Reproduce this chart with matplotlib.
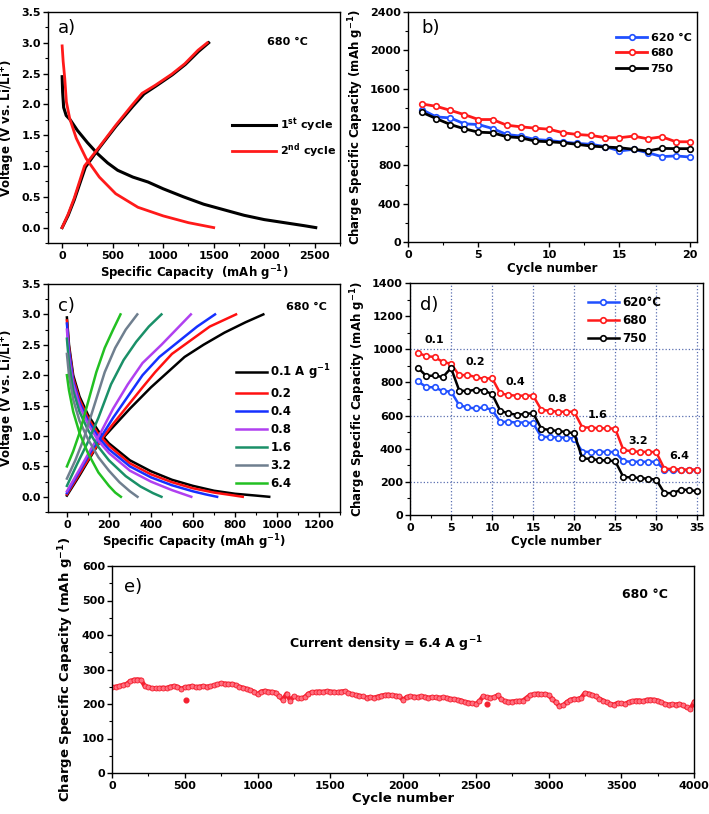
import numpy as np
import matplotlib
matplotlib.use("Agg")
import matplotlib.pyplot as plt
from matplotlib.ticker import MultipleLocator, FormatStrFormatter

plt.rcParams.update({
    "font.family": ["DejaVu Sans"],
    "font.weight": "bold",
    "font.size": 8,
    "axes.labelweight": "bold",
    "axes.labelsize": 8.5,
    "axes.linewidth": 1.0,
    "mathtext.fontset": "custom",
    "mathtext.rm": "DejaVu Sans:bold",
    "mathtext.bf": "DejaVu Sans:bold",
    "mathtext.it": "DejaVu Sans:bold:italic",
    "mathtext.default": "rm",
    "xtick.direction": "out",
    "ytick.direction": "out",
    "xtick.major.size": 3.5,
    "ytick.major.size": 3.5,
    "xtick.minor.size": 2.0,
    "ytick.minor.size": 2.0,
    "xtick.major.width": 1.0,
    "ytick.major.width": 1.0,
    "xtick.minor.width": 0.8,
    "ytick.minor.width": 0.8,
    "xtick.major.pad": 2,
    "ytick.major.pad": 1.5,
})

# ---------------- panel a: 1st / 2nd cycle (680 C) ----------------
a1_dis_cap = [0, 5, 15, 40, 80, 150, 250, 350, 450, 550, 700, 850, 1000,
              1200, 1400, 1600, 1800, 2000, 2200, 2400, 2510]
a1_dis_v = [2.45, 2.2, 1.95, 1.82, 1.75, 1.58, 1.38, 1.2, 1.05, 0.93, 0.82,
            0.74, 0.63, 0.5, 0.38, 0.29, 0.2, 0.13, 0.08, 0.03, 0.0]
a1_chg_cap = [0, 60, 120, 230, 370, 530, 700, 810, 930, 1090, 1220, 1350, 1450]
a1_chg_v = [0.0, 0.2, 0.45, 0.98, 1.3, 1.64, 1.97, 2.17, 2.3, 2.48, 2.65, 2.86, 3.0]
a2_dis_cap = [0, 10, 26, 42, 75, 140, 238, 368, 530, 750, 1000, 1250, 1500]
a2_dis_v = [2.95, 2.7, 2.42, 2.04, 1.77, 1.45, 1.12, 0.82, 0.55, 0.33, 0.19, 0.08, 0.0]
a2_chg_cap = [0, 60, 120, 221, 368, 530, 693, 791, 921, 1084, 1214, 1345, 1436]
a2_chg_v = [0.0, 0.22, 0.48, 1.0, 1.31, 1.66, 1.99, 2.18, 2.31, 2.49, 2.66, 2.88, 3.0]

# ---------------- panel b: cycling at 3 temperatures ----------------
b_cycles = list(range(1, 21))
b_620 = [1381, 1305, 1295, 1233, 1226, 1184, 1122, 1105, 1070, 1060,
         1043, 1029, 1019, 995, 950, 967, 932, 891, 898, 887]
b_680 = [1440, 1416, 1374, 1329, 1278, 1278, 1219, 1202, 1188, 1177,
         1140, 1122, 1112, 1088, 1088, 1105, 1077, 1098, 1046, 1046]
b_750 = [1353, 1288, 1226, 1181, 1146, 1140, 1098, 1088, 1053, 1046,
         1036, 1019, 1001, 991, 984, 967, 950, 977, 974, 974]

# ---------------- panel c: rate profiles (680 C) ----------------
c_rates = ["0.1 A g$^{-1}$", "0.2", "0.4", "0.8", "1.6", "3.2", "6.4"]
c_colors = ["#000000", "#ff1010", "#1530ff", "#b040f0", "#1a9068", "#6f7f8f", "#22c022"]
c_chg_cap = [
    [0, 60, 120, 160, 220, 300, 400, 480, 560, 650, 750, 850, 935],
    [0, 60, 120, 160, 220, 290, 360, 420, 500, 580, 680, 805],
    [0, 60, 120, 160, 220, 290, 360, 440, 530, 620, 705],
    [0, 60, 120, 160, 220, 290, 360, 450, 520, 590],
    [0, 50, 100, 150, 210, 270, 330, 390, 450],
    [0, 40, 80, 130, 180, 230, 280, 335],
    [0, 30, 60, 100, 140, 180, 220, 255],
]
c_chg_v = [
    [0.02, 0.35, 0.7, 0.92, 1.15, 1.45, 1.8, 2.05, 2.3, 2.5, 2.7, 2.87, 3.0],
    [0.04, 0.38, 0.72, 0.93, 1.2, 1.5, 1.8, 2.05, 2.35, 2.55, 2.8, 3.0],
    [0.06, 0.42, 0.78, 0.97, 1.3, 1.65, 2.0, 2.3, 2.55, 2.8, 3.0],
    [0.09, 0.45, 0.82, 1.05, 1.45, 1.85, 2.2, 2.5, 2.75, 3.0],
    [0.18, 0.55, 0.9, 1.3, 1.85, 2.25, 2.55, 2.8, 3.0],
    [0.3, 0.6, 0.95, 1.5, 2.05, 2.45, 2.75, 3.0],
    [0.5, 0.75, 1.05, 1.55, 2.05, 2.45, 2.75, 3.0],
]
c_dis_cap = [
    [0, 10, 30, 60, 100, 150, 200, 300, 400, 500, 600, 700, 800, 900, 963],
    [0, 10, 30, 60, 100, 150, 200, 300, 400, 500, 600, 700, 780, 837],
    [0, 10, 30, 60, 100, 150, 200, 300, 400, 500, 600, 660, 715],
    [0, 10, 30, 60, 100, 150, 200, 300, 400, 500, 550, 592],
    [0, 10, 30, 60, 100, 150, 200, 280, 350, 410, 450],
    [0, 10, 30, 60, 100, 150, 200, 250, 300, 336],
    [0, 10, 30, 60, 100, 150, 200, 230, 257],
]
c_dis_v = [
    [2.95, 2.5, 2.0, 1.65, 1.35, 1.08, 0.88, 0.6, 0.42, 0.28, 0.18, 0.1, 0.05, 0.02, 0.0],
    [2.9, 2.45, 1.95, 1.6, 1.3, 1.03, 0.84, 0.55, 0.37, 0.24, 0.14, 0.07, 0.03, 0.0],
    [2.85, 2.4, 1.9, 1.55, 1.25, 0.98, 0.78, 0.5, 0.32, 0.19, 0.09, 0.04, 0.0],
    [2.75, 2.3, 1.85, 1.5, 1.2, 0.92, 0.72, 0.43, 0.25, 0.11, 0.05, 0.0],
    [2.6, 2.2, 1.75, 1.4, 1.1, 0.82, 0.6, 0.34, 0.17, 0.06, 0.0],
    [2.35, 2.0, 1.6, 1.25, 0.95, 0.65, 0.43, 0.24, 0.09, 0.0],
    [2.0, 1.75, 1.4, 1.05, 0.72, 0.4, 0.18, 0.07, 0.0],
]

# ---------------- panel d: rate capability ----------------
d_cycles = list(range(1, 36))
d_620 = [806, 771, 771, 747, 745, 663, 649, 643, 649, 635,
         562, 562, 558, 558, 554, 471, 471, 467, 467, 461,
         381, 381, 381, 381, 379, 325, 321, 321, 321, 321,
         274, 270, 270, 270, 270]
d_680 = [978, 958, 954, 923, 913, 842, 846, 832, 822, 826,
         734, 724, 720, 720, 720, 635, 629, 623, 623, 623,
         528, 528, 523, 523, 521, 392, 385, 381, 381, 379,
         278, 278, 274, 274, 274]
d_750 = [887, 838, 842, 832, 887, 751, 747, 757, 751, 730,
         629, 613, 605, 609, 615, 521, 513, 507, 501, 493,
         341, 339, 331, 329, 325, 229, 227, 223, 219, 213,
         132, 132, 152, 152, 142]
d_rate_labels = ["0.1", "0.2", "0.4", "0.8", "1.6", "3.2", "6.4"]
d_rate_x = [3.0, 7.9, 12.9, 17.9, 22.9, 27.8, 32.8]
d_rate_y = [1055, 923, 801, 700, 603, 446, 355]

# ---------------- panel e: long cycling at 6.4 A/g ----------------
e_cycles = list(range(0, 4001, 25))
e_cap = [248, 250, 252, 255, 258, 266, 270, 271, 270, 252,
         248, 246, 245, 246, 247, 246, 250, 252, 250, 244,
         248, 250, 252, 249, 250, 252, 250, 251, 254, 257,
         260, 259, 258, 258, 255, 250, 247, 244, 240, 236,
         228, 236, 238, 236, 235, 233, 222, 212, 230, 210,
         222, 218, 216, 220, 230, 234, 235, 236, 235, 237,
         236, 235, 234, 236, 237, 232, 228, 226, 224, 222,
         218, 220, 218, 221, 224, 226, 227, 225, 224, 222,
         212, 220, 222, 221, 220, 222, 221, 218, 220, 219,
         218, 219, 218, 215, 214, 212, 210, 206, 204, 202,
         200, 208, 222, 220, 218, 219, 225, 214, 208, 206,
         207, 208, 209, 210, 218, 226, 228, 230, 228, 229,
         226, 215, 205, 194, 196, 205, 212, 215, 214, 218,
         232, 230, 226, 222, 215, 210, 205, 200, 198, 203,
         202, 200, 205, 208, 210, 210, 208, 212, 213, 212,
         210, 205, 200, 198, 199, 198, 200, 196, 190, 186,
         205]
e_out_x = [510, 2580]
e_out_y = [212, 200]

W, H = 709, 814
fig = plt.figure(figsize=(W / 100, H / 100), dpi=100)


def add_ax(x0, y0, x1, y1):
    return fig.add_axes([x0 / W, 1 - y1 / H, (x1 - x0) / W, (y1 - y0) / H])


def tag(ax, s, x, y):
    ax.text(x, y, s, transform=ax.transAxes, fontsize=13, fontweight="normal",
            ha="left", va="center")


cap_lab = "Charge Specific Capacity (mAh g$^{-1}$)"
volt_lab = "Voltage (V vs. Li/Li$^{+}$)"

# a)
ax = add_ax(48, 12, 340, 243)
ax.plot(a1_dis_cap, a1_dis_v, color="black", lw=2.2)
ax.plot(a1_chg_cap, a1_chg_v, color="black", lw=2.2, label="1$^{st}$ cycle")
ax.plot(a2_dis_cap, a2_dis_v, color="#ff1a1a", lw=2.0)
ax.plot(a2_chg_cap, a2_chg_v, color="#ff1a1a", lw=2.0, label="2$^{nd}$ cycle")
ax.set_xlim(-140, 2750)
ax.set_ylim(-0.25, 3.5)
ax.xaxis.set_major_locator(MultipleLocator(500))
ax.xaxis.set_minor_locator(MultipleLocator(250))
ax.yaxis.set_major_locator(MultipleLocator(0.5))
ax.yaxis.set_minor_locator(MultipleLocator(0.25))
ax.yaxis.set_major_formatter(FormatStrFormatter("%.1f"))
ax.set_xlabel("Specific Capacity  (mAh g$^{-1}$)", labelpad=2)
ax.set_ylabel(volt_lab, labelpad=3)
ax.legend(loc="upper left", bbox_to_anchor=(0.63, 0.55), frameon=False,
          handlelength=4.0, handletextpad=0.35, labelspacing=0.7,
          borderpad=0, borderaxespad=0, fontsize=8)
ax.text(0.82, 0.87, "680 °C", transform=ax.transAxes, ha="center", va="center")
tag(ax, "a)", 0.035, 0.93)

# b)
ax = add_ax(408, 12, 697, 242)
mk = dict(marker="o", ms=4, mfc="white", mew=1.2, lw=2.0)
ax.plot(b_cycles, b_620, color="#2050ff", label="620 °C", **mk)
ax.plot(b_cycles, b_680, color="#ff1a1a", label="680", **mk)
ax.plot(b_cycles, b_750, color="black", label="750", **mk)
ax.set_xlim(0, 20.5)
ax.set_ylim(0, 2400)
ax.xaxis.set_major_locator(MultipleLocator(5))
ax.xaxis.set_minor_locator(MultipleLocator(2.5))
ax.yaxis.set_major_locator(MultipleLocator(400))
ax.yaxis.set_minor_locator(MultipleLocator(200))
ax.set_xlabel("Cycle number", labelpad=2)
ax.set_ylabel(cap_lab, labelpad=3)
ax.legend(loc="upper left", bbox_to_anchor=(0.72, 0.91), frameon=False,
          handlelength=2.8, handletextpad=0.3, labelspacing=0.5,
          borderpad=0, borderaxespad=0, fontsize=8)
tag(ax, "b)", 0.045, 0.93)

# c)
ax = add_ax(48, 284, 340, 512)
for lab, col, cc, cv, dc, dv in zip(c_rates, c_colors, c_chg_cap, c_chg_v,
                                    c_dis_cap, c_dis_v):
    ax.plot(cc, cv, color=col, lw=1.8, label=lab)
    ax.plot(dc, dv, color=col, lw=1.8)
ax.set_xlim(-90, 1300)
ax.set_ylim(-0.25, 3.5)
ax.xaxis.set_major_locator(MultipleLocator(200))
ax.xaxis.set_minor_locator(MultipleLocator(100))
ax.yaxis.set_major_locator(MultipleLocator(0.5))
ax.yaxis.set_minor_locator(MultipleLocator(0.25))
ax.yaxis.set_major_formatter(FormatStrFormatter("%.1f"))
ax.set_xlabel("Specific Capacity (mAh g$^{-1}$)", labelpad=2)
ax.set_ylabel(volt_lab, labelpad=3)
ax.legend(loc="upper left", bbox_to_anchor=(0.644, 0.655), frameon=False,
          handlelength=2.6, handletextpad=0.3, labelspacing=0.42,
          borderpad=0, borderaxespad=0, fontsize=8.5)
ax.text(0.885, 0.9, "680 °C", transform=ax.transAxes, ha="center", va="center")
tag(ax, "c)", 0.035, 0.905)

# d)
ax = add_ax(410, 283, 703, 515)
mk = dict(marker="o", ms=4, mfc="white", mew=1.2, lw=1.8)
ax.plot(d_cycles, d_620, color="#2050ff", label="620°C", **mk)
ax.plot(d_cycles, d_680, color="#ff1a1a", label="680", **mk)
ax.plot(d_cycles, d_750, color="black", label="750", **mk)
for s, x, y in zip(d_rate_labels, d_rate_x, d_rate_y):
    ax.text(x, y, s, ha="center", va="center", fontsize=8)
ax.set_xlim(0, 35.7)
ax.set_ylim(0, 1400)
ax.xaxis.set_major_locator(MultipleLocator(5))
ax.xaxis.set_minor_locator(MultipleLocator(2.5))
ax.yaxis.set_major_locator(MultipleLocator(200))
ax.yaxis.set_minor_locator(MultipleLocator(100))
ax.grid(axis="x", which="major", color="#5a6fb0", ls=":", lw=0.9)
for gy in (200, 600, 1000):
    ax.axhline(gy, color="#5a6fb0", ls=":", lw=0.9, zorder=0)
ax.set_xlabel("Cycle number", labelpad=2)
ax.set_ylabel(cap_lab, labelpad=3)
ax.legend(loc="upper left", bbox_to_anchor=(0.608, 0.945), frameon=False,
          handlelength=2.6, handletextpad=0.3, labelspacing=0.45,
          borderpad=0, borderaxespad=0, fontsize=8.5)
tag(ax, "d)", 0.035, 0.905)

# e)
ax = add_ax(112, 566, 694, 773)
ax.plot(e_cycles, e_cap, color="#f52030", lw=3.2, marker="o", ms=3.6,
        mfc="#ff7080", mec="#f52030", mew=0.6)
ax.plot(e_out_x, e_out_y, ls="none", marker="o", ms=3.4, color="#f52030")
ax.set_xlim(0, 4000)
ax.set_ylim(0, 600)
ax.xaxis.set_major_locator(MultipleLocator(500))
ax.xaxis.set_minor_locator(MultipleLocator(250))
ax.yaxis.set_major_locator(MultipleLocator(100))
ax.yaxis.set_minor_locator(MultipleLocator(50))
ax.set_xlabel("Cycle number", labelpad=1, fontsize=9.5)
ax.set_ylabel(cap_lab, labelpad=4, fontsize=9.5)
ax.text(0.47, 0.62, "Current density = 6.4 A g$^{-1}$", transform=ax.transAxes,
        ha="center", va="center", fontsize=9)
ax.text(0.915, 0.86, "680 °C", transform=ax.transAxes, ha="center", va="center",
        fontsize=9)
tag(ax, "e)", 0.02, 0.9)

fig.savefig("out.png", dpi=100)
